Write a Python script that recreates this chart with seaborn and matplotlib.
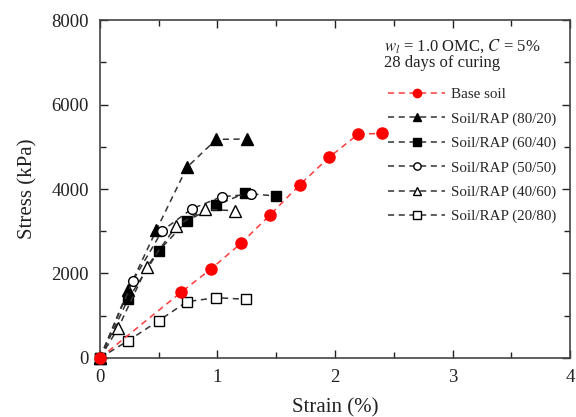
import matplotlib
matplotlib.use("Agg")
import matplotlib.pyplot as plt
import seaborn as sns
import pandas as pd
from matplotlib.ticker import MultipleLocator

sns.set_theme(style="ticks")
plt.rcParams['font.family'] = ['Liberation Serif', 'DejaVu Serif']
plt.rcParams['mathtext.fontset'] = 'stix'

# Data (strain %, stress kPa)
base_x = [0, 0.69, 0.945, 1.20, 1.447, 1.70, 1.95, 2.196, 2.40]
base_y = [0, 1555, 2107, 2715, 3385, 4100, 4750, 5295, 5318]

s8020_x = [0, 0.24, 0.48, 0.74, 0.99, 1.25]
s8020_y = [0, 1610, 3030, 4513, 5175, 5183]

s6040_x = [0, 0.24, 0.50, 0.74, 0.99, 1.234, 1.50]
s6040_y = [0, 1397, 2540, 3243, 3621, 3898, 3834]

s5050_x = [0, 0.28, 0.53, 0.78, 1.035, 1.285]
s5050_y = [0, 1830, 3013, 3527, 3818, 3874]

s4060_x = [0, 0.156, 0.40, 0.65, 0.89, 1.15]
s4060_y = [0, 717, 2160, 3124, 3520, 3486]

s2080_x = [0, 0.24, 0.50, 0.74, 0.99, 1.24]
s2080_y = [0, 410, 883, 1333, 1428, 1389]

labels = ["Base soil", "Soil/RAP (80/20)", "Soil/RAP (60/40)",
          "Soil/RAP (50/50)", "Soil/RAP (40/60)", "Soil/RAP (20/80)"]

series = [(base_x, base_y), (s8020_x, s8020_y), (s6040_x, s6040_y),
          (s5050_x, s5050_y), (s4060_x, s4060_y), (s2080_x, s2080_y)]

styles = [
    dict(color="#ff3b3b", marker="o", mfc="#ff0000", mec="#ff0000", ms=8, z=5),
    dict(color="#333333", marker="^", mfc="black", mec="black", ms=8, z=3),
    dict(color="#333333", marker="s", mfc="black", mec="black", ms=7, z=3),
    dict(color="#333333", marker="o", mfc="white", mec="black", ms=7, z=3),
    dict(color="#333333", marker="^", mfc="white", mec="black", ms=8, z=3),
    dict(color="#333333", marker="s", mfc="white", mec="black", ms=7, z=3),
]

fig = plt.figure(figsize=(5.76, 4.17), dpi=100)
ax = fig.add_axes([0.1736, 0.1415, 0.816, 0.8105])

for (xs, ys), lab, st in zip(series, labels, styles):
    df = pd.DataFrame({"x": xs, "y": ys})
    sns.lineplot(data=df, x="x", y="y", ax=ax, estimator=None, sort=False,
                 color=st["color"], linestyle=(0, (4, 3)), linewidth=1.1,
                 marker=st["marker"], markersize=st["ms"],
                 markerfacecolor=st["mfc"], markeredgecolor=st["mec"],
                 markeredgewidth=1.0, label=lab, clip_on=False, zorder=st["z"])

ax.set_xlim(0, 4)
ax.set_ylim(0, 8000)
ax.xaxis.set_major_locator(MultipleLocator(1))
ax.xaxis.set_minor_locator(MultipleLocator(0.5))
ax.yaxis.set_major_locator(MultipleLocator(2000))
ax.yaxis.set_minor_locator(MultipleLocator(1000))
ax.tick_params(which="both", direction="in", top=True, right=True,
               labelsize=13.5, colors="#222222")
ax.tick_params(axis="x", which="major", pad=8)
ax.tick_params(axis="y", which="major", pad=8)
ax.tick_params(which="major", length=6, width=1)
ax.tick_params(which="minor", length=4, width=1)
for sp in ax.spines.values():
    sp.set_color("#444444")
    sp.set_linewidth(1.2)

ax.set_xlabel("Strain (%)", fontsize=15, color="#222222", labelpad=9)
ax.set_ylabel("Stress (kPa)", fontsize=15, color="#222222", labelpad=10)

ax.text(0.605, 0.95, r"$w_l$ = 1.0 OMC, $C$ = 5%" + "\n28 days of curing",
        transform=ax.transAxes, fontsize=12, va="top", ha="left",
        color="#222222", linespacing=1.05)

leg = ax.legend(loc="upper left", bbox_to_anchor=(0.585, 0.84), frameon=False,
                fontsize=10.8, handlelength=3.8, numpoints=1, markerscale=0.75,
                labelspacing=0.72, handletextpad=0.4)

fig.savefig("out.png", dpi=100)
